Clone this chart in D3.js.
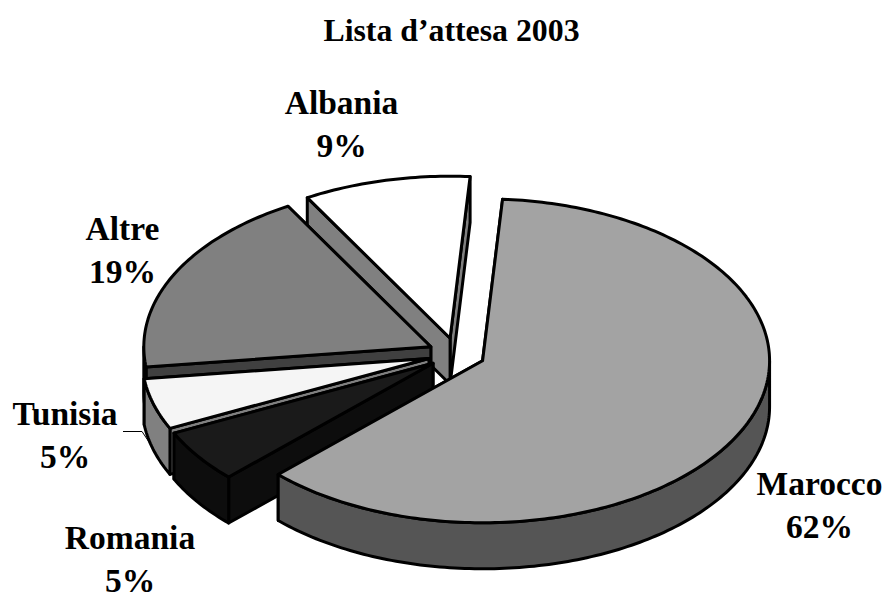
<!DOCTYPE html>
<html>
<head>
<meta charset="utf-8">
<style>
html,body{margin:0;padding:0;background:#fff;overflow:hidden}
text{font-family:"Liberation Serif",serif;font-weight:bold;fill:#000;text-anchor:middle}
</style>
<script src="https://cdn.jsdelivr.net/npm/d3@7"></script>
</head>
<body>
<script>
const titleText = "Lista d’attesa 2003";
const categories = ["Marocco","Romania","Tunisia","Altre","Albania"];
const values = [61.5,5.3,5.1,18.7,9.4];
const topColors = ["#a3a3a3","#1a1a1a","#f5f5f5","#808080","#ffffff"];
const sideColors = ["#555555","#0d0d0d","#808080","#404040","#808080"];
const labelX = [819.5,130,65,122.5,341.5];
const labelY = [495,549,425,240,114];
const drawOrder = [4,3,2,1,0];

const W=885,H=594, cx=456.5, cy=354, rx=287, ry=162, depth=46, explode=0.1, lineGap=43;
const rad=d=>d*Math.PI/180;

const svg=d3.select("body").append("svg").attr("width",W).attr("height",H).style("display","block");
svg.append("text").attr("x",451.5).attr("y",41).attr("font-size",31.8).text(titleText);

const arcs=d3.pie().sort(null).startAngle(rad(4)).endAngle(rad(364))(values);
const line=d3.line();
const pt=(a,r=1)=>[Math.sin(a)*rx*r,-Math.cos(a)*ry*r];
const arcPts=(a0,a1)=>{const n=Math.max(2,Math.ceil((a1-a0)/rad(1)));
  return d3.range(n+1).map(i=>pt(a0+(a1-a0)*i/n));};
const down=p=>[p[0],p[1]+depth];
const closed=pts=>line(pts)+"Z";

const style=(s,fill)=>s.attr("fill",fill).attr("stroke","#000").attr("stroke-width",3).attr("stroke-linejoin","round");

// leader line for Tunisia, behind slices
svg.append("path").attr("d",line([[123,431.5],[142,431.5],[151,445]])).attr("fill","none").attr("stroke","#000").attr("stroke-width",1);

drawOrder.forEach(i=>{
  const d=arcs[i], a0=d.startAngle, a1=d.endAngle, mid=(a0+a1)/2;
  const o=pt(mid,explode);
  const g=svg.append("g").attr("transform",`translate(${cx+o[0]},${cy+o[1]})`);
  const apex=[0,0], p0=pt(a0), p1=pt(a1);
  [p1,p0].forEach(p=>{
    style(g.append("path").attr("d",closed([apex,p,down(p),down(apex)])),sideColors[i]);
  });
  const f0=Math.max(a0,rad(90)), f1=Math.min(a1,rad(270));
  if(f1>f0){
    const top=arcPts(f0,f1);
    style(g.append("path").attr("d",closed(top.concat(top.map(down).reverse()))),sideColors[i]);
  }
  style(g.append("path").attr("d",closed([apex].concat(arcPts(a0,a1)))),topColors[i]);
});

const labels=svg.append("g").attr("font-size",33.5);
categories.forEach((c,i)=>{
  labels.append("text").attr("x",labelX[i]).attr("y",labelY[i]).text(c);
  labels.append("text").attr("x",labelX[i]).attr("y",labelY[i]+lineGap).text(Math.round(values[i])+"%");
});
</script>
</body>
</html>
